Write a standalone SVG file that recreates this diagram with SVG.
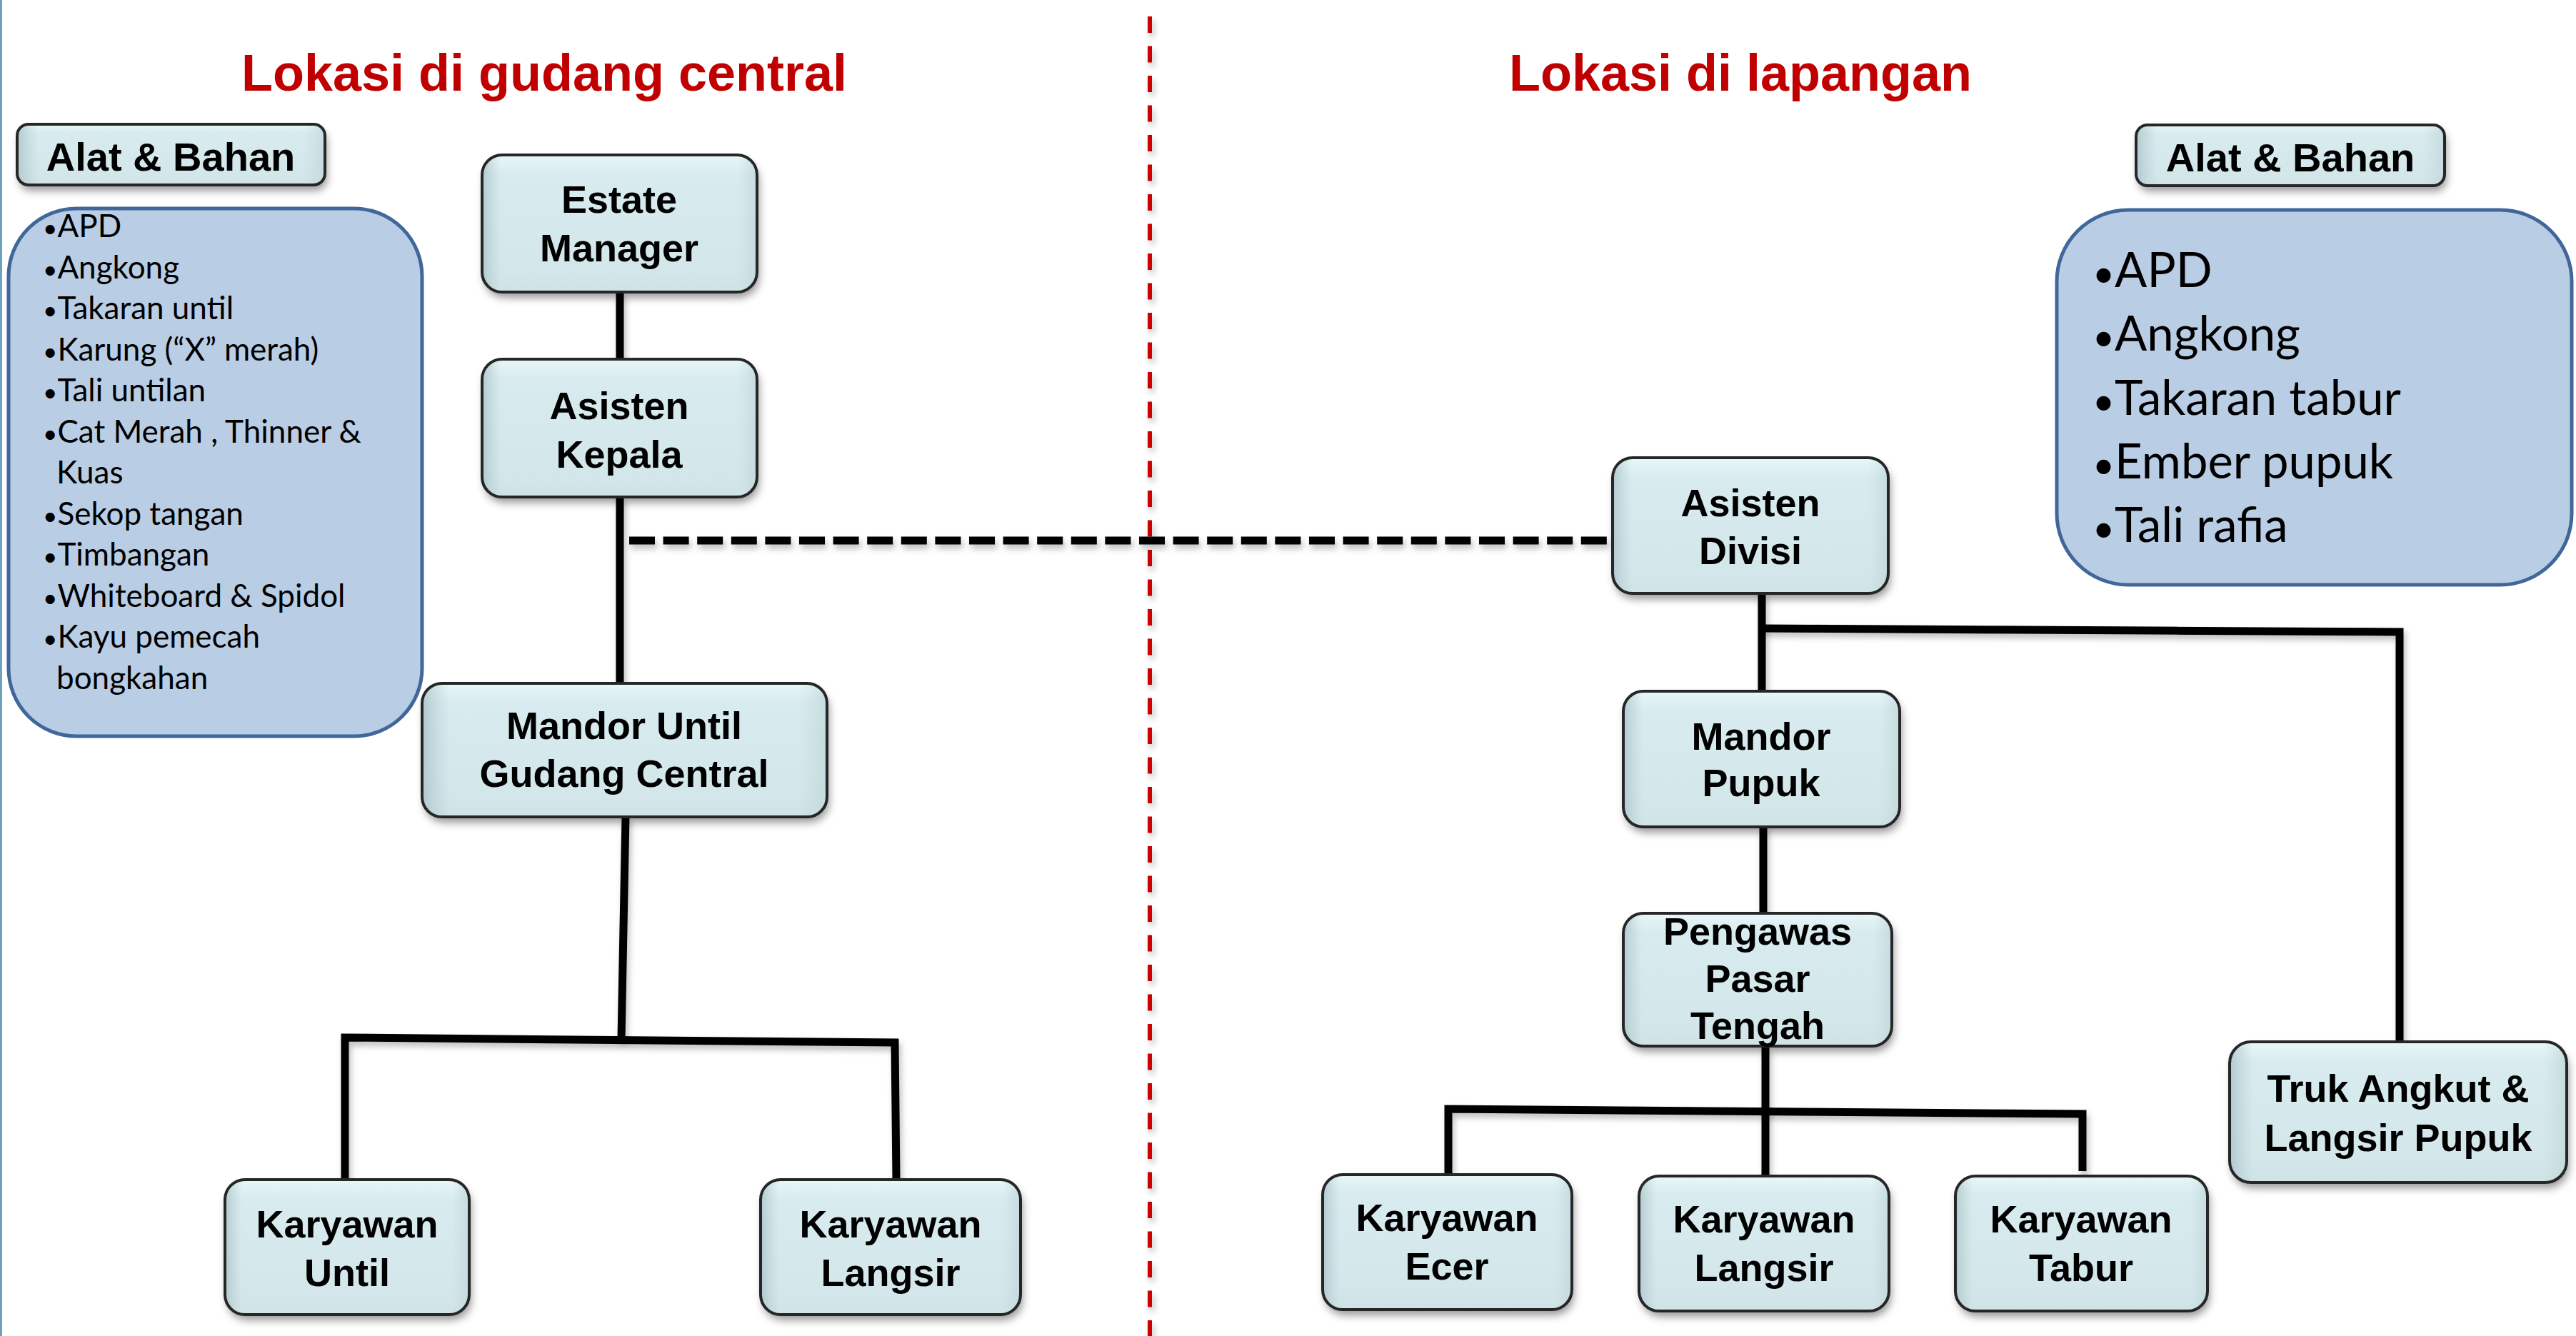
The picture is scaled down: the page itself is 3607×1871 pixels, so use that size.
<svg xmlns="http://www.w3.org/2000/svg" width="3607" height="1871" viewBox="0 0 3607 1871">
<defs>
<linearGradient id="gV" x1="0" y1="0" x2="0" y2="1">
<stop offset="0" stop-color="#E8F7F9"/>
<stop offset="0.14" stop-color="#D8EBEE"/>
<stop offset="0.85" stop-color="#D3E6E9"/>
<stop offset="1" stop-color="#CFE2E5"/>
</linearGradient>
<linearGradient id="gH" x1="0" y1="0" x2="1" y2="0">
<stop offset="0" stop-color="#A9C3C8" stop-opacity="0.85"/>
<stop offset="0.07" stop-color="#BCD3D7" stop-opacity="0"/>
<stop offset="0.93" stop-color="#C6DCDF" stop-opacity="0"/>
<stop offset="1" stop-color="#BDD4D8" stop-opacity="0.7"/>
</linearGradient>
<filter id="sh" filterUnits="userSpaceOnUse" x="0" y="0" width="3607" height="1871">
<feDropShadow dx="3" dy="8" stdDeviation="6" flood-color="#000" flood-opacity="0.4"/>
</filter>
<filter id="lsh" filterUnits="userSpaceOnUse" x="0" y="0" width="3607" height="1871">
<feDropShadow dx="3" dy="6" stdDeviation="4" flood-color="#000" flood-opacity="0.25"/>
</filter>
<style>
.nb{fill:url(#gV);filter:url(#sh)}
.nv{fill:url(#gH);stroke:#262626;stroke-width:4}
.lbl{font-family:"Liberation Sans",Arial,sans-serif;font-weight:bold;font-size:54px;text-anchor:middle;fill:#000}
.hdr{font-family:"Liberation Sans",Arial,sans-serif;font-weight:bold;font-size:56px;text-anchor:middle;fill:#000}
.ttl{font-family:"Liberation Sans",Arial,sans-serif;font-weight:bold;font-size:72px;text-anchor:middle;fill:#C00000}
.lst{fill:#B9CDE5;stroke:#41679A;stroke-width:5}
.ls{font-family:Lato,"Open Sans",sans-serif;font-size:44px;fill:#000}
.lb{font-family:Lato,"Open Sans",sans-serif;font-size:67px;fill:#000}
.bu{font-size:0.8em}
.con{fill:none;stroke:#000;stroke-width:11;filter:url(#lsh)}
</style>
</defs>
<rect width="3607" height="1871" fill="#FFFFFF"/>
<rect x="0" y="0" width="3" height="1871" fill="#6FA3BD"/>

<!-- divider -->
<line x1="1610" y1="23" x2="1610" y2="1871" stroke="#CC0000" stroke-width="6" stroke-dasharray="23 18.5" filter="url(#lsh)"/>

<!-- titles -->
<text class="ttl" x="762" y="127">Lokasi di gudang central</text>
<text class="ttl" x="2437" y="127">Lokasi di lapangan</text>

<!-- connectors -->
<g id="connectors">
<line class="con" x1="868" y1="409" x2="868" y2="503"/>
<line class="con" x1="868" y1="696" x2="868" y2="957"/>
<line class="con" x1="881" y1="757" x2="2258" y2="757" stroke-width="12" stroke-dasharray="36 11.6"/>
<polyline class="con" points="876,1143 870,1456"/>
<polyline class="con" points="483,1652 483,1453 1253,1460 1255,1652"/>
<line class="con" x1="2467" y1="830" x2="2467" y2="968"/>
<polyline class="con" points="2467,880 3360,885 3360,1459"/>
<line class="con" x1="2469" y1="1157" x2="2469" y2="1279"/>
<line class="con" x1="2472" y1="1465" x2="2472" y2="1647"/>
<polyline class="con" points="2028,1645 2028,1553 2916,1560 2916,1640" stroke-width="13"/>
</g>

<!-- left materials -->
<g id="alat-left">
<rect class="nb" x="24" y="174" width="431" height="85" rx="16"/>
<rect class="nv" x="24" y="174" width="431" height="85" rx="16"/>
<text class="hdr" x="239" y="239">Alat &amp; Bahan</text>
</g>
<g id="list-left">
<rect class="lst" x="12" y="292" width="579" height="739" rx="95"/>
<text class="ls" x="60" y="332"><tspan class="bu">•</tspan>APD</text>
<text class="ls" x="60" y="390"><tspan class="bu">•</tspan>Angkong</text>
<text class="ls" x="60" y="447"><tspan class="bu">•</tspan>Takaran until</text>
<text class="ls" x="60" y="505"><tspan class="bu">•</tspan>Karung (“X” merah)</text>
<text class="ls" x="60" y="562"><tspan class="bu">•</tspan>Tali untilan</text>
<text class="ls" x="60" y="620"><tspan class="bu">•</tspan>Cat Merah , Thinner &amp;</text>
<text class="ls" x="79" y="677">Kuas</text>
<text class="ls" x="60" y="735"><tspan class="bu">•</tspan>Sekop tangan</text>
<text class="ls" x="60" y="792"><tspan class="bu">•</tspan>Timbangan</text>
<text class="ls" x="60" y="850"><tspan class="bu">•</tspan>Whiteboard &amp; Spidol</text>
<text class="ls" x="60" y="907"><tspan class="bu">•</tspan>Kayu pemecah</text>
<text class="ls" x="79" y="965">bongkahan</text>
</g>

<!-- right materials -->
<g id="alat-right">
<rect class="nb" x="2991" y="175" width="432" height="85" rx="16"/>
<rect class="nv" x="2991" y="175" width="432" height="85" rx="16"/>
<text class="hdr" x="3207" y="240">Alat &amp; Bahan</text>
</g>
<g id="list-right">
<rect class="lst" x="2880" y="294" width="721" height="525" rx="100"/>
<text class="lb" x="2930" y="402"><tspan class="bu">•</tspan>APD</text>
<text class="lb" x="2930" y="491"><tspan class="bu">•</tspan>Angkong</text>
<text class="lb" x="2930" y="581"><tspan class="bu">•</tspan>Takaran tabur</text>
<text class="lb" x="2930" y="670"><tspan class="bu">•</tspan>Ember pupuk</text>
<text class="lb" x="2930" y="759"><tspan class="bu">•</tspan>Tali rafia</text>
</g>

<!-- nodes -->
<g id="estate-manager">
<rect class="nb" x="675" y="217" width="385" height="192" rx="28"/>
<rect class="nv" x="675" y="217" width="385" height="192" rx="28"/>
<text class="lbl" x="867" y="298">Estate</text>
<text class="lbl" x="867" y="366">Manager</text>
</g>
<g id="asisten-kepala">
<rect class="nb" x="675" y="503" width="385" height="193" rx="28"/>
<rect class="nv" x="675" y="503" width="385" height="193" rx="28"/>
<text class="lbl" x="867" y="587">Asisten</text>
<text class="lbl" x="867" y="655">Kepala</text>
</g>
<g id="mandor-until">
<rect class="nb" x="591" y="957" width="567" height="187" rx="28"/>
<rect class="nv" x="591" y="957" width="567" height="187" rx="28"/>
<text class="lbl" x="874" y="1035">Mandor Until</text>
<text class="lbl" x="874" y="1102">Gudang Central</text>
</g>
<g id="karyawan-until">
<rect class="nb" x="315" y="1652" width="342" height="189" rx="28"/>
<rect class="nv" x="315" y="1652" width="342" height="189" rx="28"/>
<text class="lbl" x="486" y="1733">Karyawan</text>
<text class="lbl" x="486" y="1801">Until</text>
</g>
<g id="karyawan-langsir-gudang">
<rect class="nb" x="1065" y="1652" width="364" height="189" rx="28"/>
<rect class="nv" x="1065" y="1652" width="364" height="189" rx="28"/>
<text class="lbl" x="1247" y="1733">Karyawan</text>
<text class="lbl" x="1247" y="1801">Langsir</text>
</g>
<g id="asisten-divisi">
<rect class="nb" x="2258" y="641" width="386" height="190" rx="28"/>
<rect class="nv" x="2258" y="641" width="386" height="190" rx="28"/>
<text class="lbl" x="2451" y="723">Asisten</text>
<text class="lbl" x="2451" y="790">Divisi</text>
</g>
<g id="mandor-pupuk">
<rect class="nb" x="2273" y="968" width="387" height="190" rx="28"/>
<rect class="nv" x="2273" y="968" width="387" height="190" rx="28"/>
<text class="lbl" x="2466" y="1050">Mandor</text>
<text class="lbl" x="2466" y="1115">Pupuk</text>
</g>
<g id="pengawas">
<rect class="nb" x="2273" y="1279" width="376" height="186" rx="28"/>
<rect class="nv" x="2273" y="1279" width="376" height="186" rx="28"/>
<text class="lbl" x="2461" y="1323">Pengawas</text>
<text class="lbl" x="2461" y="1389">Pasar</text>
<text class="lbl" x="2461" y="1455">Tengah</text>
</g>
<g id="truk">
<rect class="nb" x="3122" y="1459" width="472" height="197" rx="30"/>
<rect class="nv" x="3122" y="1459" width="472" height="197" rx="30"/>
<text class="lbl" x="3358" y="1543">Truk Angkut &amp;</text>
<text class="lbl" x="3358" y="1612">Langsir Pupuk</text>
</g>
<g id="karyawan-ecer">
<rect class="nb" x="1852" y="1645" width="349" height="189" rx="28"/>
<rect class="nv" x="1852" y="1645" width="349" height="189" rx="28"/>
<text class="lbl" x="2026" y="1724">Karyawan</text>
<text class="lbl" x="2026" y="1792">Ecer</text>
</g>
<g id="karyawan-langsir-lapangan">
<rect class="nb" x="2295" y="1647" width="350" height="189" rx="28"/>
<rect class="nv" x="2295" y="1647" width="350" height="189" rx="28"/>
<text class="lbl" x="2470" y="1726">Karyawan</text>
<text class="lbl" x="2470" y="1794">Langsir</text>
</g>
<g id="karyawan-tabur">
<rect class="nb" x="2738" y="1647" width="353" height="189" rx="28"/>
<rect class="nv" x="2738" y="1647" width="353" height="189" rx="28"/>
<text class="lbl" x="2914" y="1726">Karyawan</text>
<text class="lbl" x="2914" y="1794">Tabur</text>
</g>
</svg>
